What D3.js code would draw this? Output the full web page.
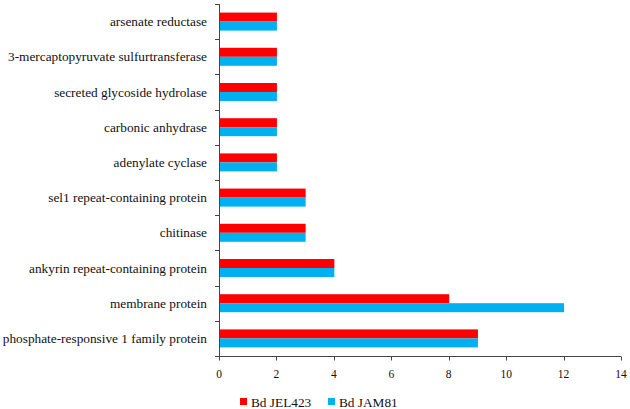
<!DOCTYPE html>
<html><head><meta charset="utf-8">
<script src="https://cdn.jsdelivr.net/npm/d3@7"></script>
<style>body{margin:0;background:#fff}svg{display:block}text{font-family:"Times New Roman","Liberation Serif",serif;fill:#111}</style>
</head><body><svg id="c" width="630" height="409"></svg>
<script>
const categories = ["arsenate reductase","3-mercaptopyruvate sulfurtransferase","secreted glycoside hydrolase","carbonic anhydrase","adenylate cyclase","sel1 repeat-containing protein","chitinase","ankyrin repeat-containing protein","membrane protein","phosphate-responsive 1 family protein"];
const jel423 = [2,2,2,2,2,3,3,4,8,9];
const jam81 = [2,2,2,2,2,3,3,4,12,9];
const seriesNames = ["Bd JEL423","Bd JAM81"];
const xTicks = [0,2,4,6,8,10,12,14];
const colors = ["#FF0000","#00B0F0"];

(function(){
const svg = d3.select("#c");
const pL = 219, pR = 621, pT = 4, pB = 356;
const x = d3.scaleLinear().domain([0,14]).range([pL,pR]);
const y = d3.scaleBand().domain(categories).range([pT,pB]);
const inner = d3.scaleBand().domain([0,1]).range([0,18]);
const offset = (y.bandwidth()-18)/2;

const series = [jel423, jam81];
series.forEach((vals,si)=>{
  svg.append("g").selectAll("rect").data(categories).join("rect")
    .attr("x", x(0)+0.5)
    .attr("y", (d)=>y(d)+offset+inner(si))
    .attr("width", (d,i)=>x(vals[i])-x(0))
    .attr("height", inner.bandwidth())
    .attr("fill", colors[si]);
});

// y axis
const ya = svg.append("g");
ya.append("line").attr("x1",pL+0.5).attr("x2",pL+0.5).attr("y1",pT).attr("y2",pB).attr("stroke","#444");
const bounds = categories.map(c=>y(c)).concat([pB]);
ya.selectAll("line.t").data(bounds).join("line").attr("class","t")
  .attr("x1",pL-4).attr("x2",pL+0.5).attr("y1",d=>Math.round(d)+0.5).attr("y2",d=>Math.round(d)+0.5).attr("stroke","#444");
ya.selectAll("text").data(categories).join("text")
  .attr("x", pL-12).attr("y", d=>y(d)+y.bandwidth()/2).attr("dy","0.35em")
  .attr("text-anchor","end").attr("font-size","13.3px").text(d=>d);

// x axis
const xa = svg.append("g").attr("transform",`translate(0,${pB+0.5})`);
xa.append("line").attr("x1",pL).attr("x2",pR).attr("stroke","#444");
xa.selectAll("line.t").data(xTicks).join("line").attr("class","t")
  .attr("x1",d=>Math.round(x(d))+0.5).attr("x2",d=>Math.round(x(d))+0.5).attr("y1",0).attr("y2",4).attr("stroke","#444");
xa.selectAll("text").data(xTicks).join("text")
  .attr("x",d=>x(d)).attr("y",17).attr("dy","0.35em").attr("text-anchor","middle").attr("font-size","11.5px").text(d=>d);

// legend
const lg = svg.append("g");
const lx = [240, 328];
seriesNames.forEach((n,i)=>{
  lg.append("rect").attr("x",lx[i]).attr("y",398).attr("width",7).attr("height",7).attr("fill",colors[i]);
  lg.append("text").attr("x",lx[i]+11).attr("y",402).attr("dy","0.35em").attr("font-size","13.3px").text(n);
});
})();
</script></body></html>
